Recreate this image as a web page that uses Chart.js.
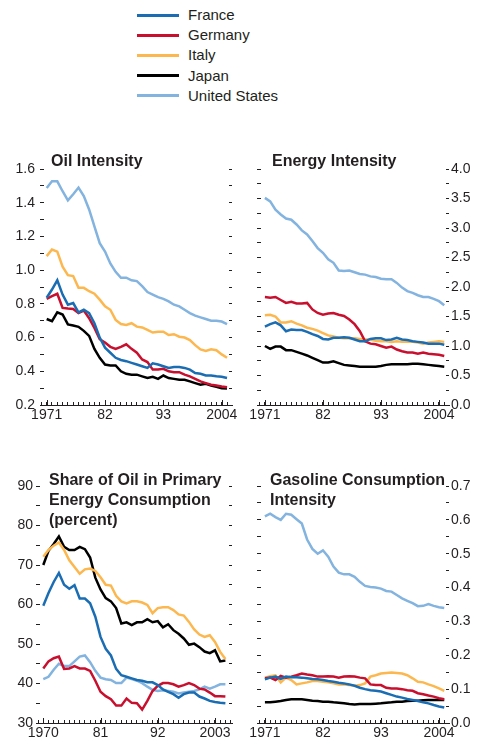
<!DOCTYPE html>
<html>
<head>
<meta charset="utf-8">
<script src="https://cdn.jsdelivr.net/npm/chart.js@4.4.0/dist/chart.umd.min.js"></script>
<style>
  html, body { margin: 0; padding: 0; background: #fff; }
  body { width: 478px; height: 745px; position: relative; overflow: hidden;
         font-family: 'Liberation Sans', Arial, sans-serif; color: #231f20; }
  .panel { position: absolute; }
  .title { position: absolute; font-weight: bold; font-size: 16px; line-height: 20px; white-space: nowrap; }
  .row { position: absolute; left: 137px; height: 20px; line-height: 20px; font-size: 15px; }
  .swatch { position: absolute; left: 0; top: 8.5px; width: 42px; height: 3px; }
  .name { position: absolute; left: 51px; white-space: nowrap; }
</style>
</head>
<body>
<div id="legend"></div>

<div class="panel" style="left:0;top:140px;width:240px;height:290px"><canvas id="oil"></canvas></div>
<div class="panel" style="left:240px;top:140px;width:238px;height:290px"><canvas id="energy"></canvas></div>
<div class="panel" style="left:0;top:460px;width:240px;height:285px"><canvas id="share"></canvas></div>
<div class="panel" style="left:240px;top:460px;width:238px;height:285px"><canvas id="gasoline"></canvas></div>

<div class="title" style="left:51px;top:151px">Oil Intensity</div>
<div class="title" style="left:272px;top:151px">Energy Intensity</div>
<div class="title" style="left:49px;top:470px">Share of Oil in Primary<br>Energy Consumption<br>(percent)</div>
<div class="title" style="left:270px;top:470px">Gasoline Consumption<br>Intensity</div>

<script>
// --- séries ---
const countries = ['France', 'Germany', 'Italy', 'Japan', 'United States'];
const colors = ['#1a6db3', '#c8102e', '#fdb74f', '#000000', '#83b3df'];

const years = [1971, 1972, 1973, 1974, 1975, 1976, 1977, 1978, 1979, 1980,
  1981, 1982, 1983, 1984, 1985, 1986, 1987, 1988, 1989, 1990,
  1991, 1992, 1993, 1994, 1995, 1996, 1997, 1998, 1999, 2000,
  2001, 2002, 2003, 2004, 2005];
const shareYears = [1970, 1971, 1972, 1973, 1974, 1975, 1976, 1977, 1978, 1979,
  1980, 1981, 1982, 1983, 1984, 1985, 1986, 1987, 1988, 1989,
  1990, 1991, 1992, 1993, 1994, 1995, 1996, 1997, 1998, 1999,
  2000, 2001, 2002, 2003, 2004, 2005];

const tickYears = [1971, 1982, 1993, 2004];
const tickText = ['1971', '82', '93', '2004'];
const shareTickYears = [1970, 1981, 1992, 2003];
const shareTickText = ['1970', '81', '92', '2003'];

// Oil Intensity
const oilFrance = [0.836, 0.885, 0.94, 0.855, 0.795, 0.805, 0.75, 0.765, 0.745, 0.685,
  0.60, 0.54, 0.51, 0.48, 0.467, 0.46, 0.45, 0.44, 0.43, 0.42,
  0.447, 0.44, 0.43, 0.42, 0.425, 0.425, 0.42, 0.41, 0.39, 0.385,
  0.375, 0.375, 0.37, 0.367, 0.36];
const oilGermany = [0.83, 0.846, 0.86, 0.776, 0.772, 0.77, 0.745, 0.76, 0.715, 0.657,
  0.59, 0.57, 0.545, 0.533, 0.545, 0.56, 0.533, 0.51, 0.47, 0.455,
  0.41, 0.41, 0.415, 0.40, 0.395, 0.395, 0.38, 0.37, 0.355, 0.34,
  0.33, 0.32, 0.316, 0.31, 0.305];
const oilItaly = [1.083, 1.122, 1.11, 1.02, 0.97, 0.965, 0.895, 0.895, 0.875, 0.86,
  0.825, 0.785, 0.765, 0.705, 0.68, 0.675, 0.685, 0.665, 0.66, 0.645,
  0.63, 0.635, 0.635, 0.615, 0.62, 0.605, 0.60, 0.585, 0.555, 0.53,
  0.52, 0.53, 0.525, 0.50, 0.48];
const oilJapan = [0.71, 0.697, 0.75, 0.737, 0.678, 0.672, 0.664, 0.64, 0.61, 0.533,
  0.48, 0.44, 0.435, 0.435, 0.40, 0.385, 0.38, 0.38, 0.37, 0.36,
  0.367, 0.355, 0.375, 0.36, 0.355, 0.35, 0.35, 0.34, 0.33, 0.32,
  0.326, 0.316, 0.308, 0.30, 0.298];
const oilUS = [1.487, 1.527, 1.527, 1.468, 1.414, 1.45, 1.49, 1.44, 1.36, 1.26,
  1.16, 1.11, 1.04, 0.99, 0.955, 0.955, 0.94, 0.935, 0.905, 0.87,
  0.855, 0.84, 0.83, 0.815, 0.795, 0.785, 0.765, 0.745, 0.73, 0.72,
  0.71, 0.70, 0.70, 0.695, 0.68];

// Energy Intensity
const energyFrance = [1.33, 1.37, 1.40, 1.35, 1.25, 1.28, 1.27, 1.27, 1.24, 1.20,
  1.17, 1.12, 1.11, 1.14, 1.14, 1.15, 1.14, 1.11, 1.08, 1.08,
  1.12, 1.13, 1.13, 1.10, 1.11, 1.14, 1.11, 1.10, 1.08, 1.07,
  1.06, 1.04, 1.04, 1.04, 1.02];
const energyGermany = [1.83, 1.82, 1.83, 1.78, 1.73, 1.75, 1.72, 1.72, 1.73, 1.62,
  1.56, 1.53, 1.55, 1.56, 1.53, 1.51, 1.45, 1.37, 1.25, 1.08,
  1.04, 1.03, 1.00, 0.97, 0.99, 0.94, 0.91, 0.89, 0.89, 0.87,
  0.89, 0.87, 0.86, 0.85, 0.83];
const energyItaly = [1.52, 1.53, 1.50, 1.40, 1.40, 1.42, 1.38, 1.35, 1.31, 1.29,
  1.26, 1.22, 1.18, 1.16, 1.14, 1.13, 1.13, 1.13, 1.12, 1.11,
  1.11, 1.09, 1.08, 1.08, 1.07, 1.08, 1.07, 1.07, 1.07, 1.06,
  1.04, 1.06, 1.07, 1.08, 1.07];
const energyJapan = [1.00, 0.95, 0.99, 0.99, 0.93, 0.93, 0.90, 0.87, 0.84, 0.80,
  0.76, 0.72, 0.72, 0.74, 0.71, 0.68, 0.67, 0.66, 0.65, 0.65,
  0.65, 0.65, 0.66, 0.68, 0.69, 0.69, 0.69, 0.69, 0.70, 0.70,
  0.69, 0.68, 0.67, 0.66, 0.65];
const energyUS = [3.51, 3.45, 3.31, 3.23, 3.16, 3.14, 3.06, 2.96, 2.89, 2.78,
  2.66, 2.58, 2.47, 2.41, 2.28, 2.27, 2.28, 2.25, 2.22, 2.21,
  2.18, 2.17, 2.14, 2.13, 2.13, 2.07, 1.99, 1.93, 1.90, 1.86,
  1.83, 1.83, 1.80, 1.76, 1.69];

// Share of Oil in Primary Energy Consumption (percent), 1970-2005
const shareFrance = [59.7, 62.9, 65.7, 68.0, 65.0, 64.0, 64.9, 61.5, 61.5, 60.3,
  56.9, 51.8, 48.8, 47.1, 43.7, 42.1, 41.7, 41.3, 40.9, 40.7,
  40.3, 40.3, 39.6, 38.5, 37.9, 37.3, 36.4, 37.3, 37.7, 37.7,
  36.7, 36.2, 35.6, 35.3, 35.1, 35.0];
const shareGermany = [43.8, 45.6, 46.4, 46.8, 43.7, 43.8, 44.4, 43.8, 43.8, 43.2,
  40.7, 37.9, 36.8, 36.0, 34.4, 34.4, 36.2, 35.1, 35.0, 33.4,
  35.6, 38.1, 39.4, 40.1, 40.1, 39.8, 39.2, 39.6, 40.1, 39.6,
  38.7, 38.5, 37.7, 36.8, 36.8, 36.7];
const shareItaly = [72.1, 73.8, 74.9, 75.7, 73.8, 71.2, 69.5, 67.8, 68.9, 69.1,
  68.5, 66.9, 65.0, 64.8, 62.2, 60.8, 60.3, 60.8, 60.8, 60.5,
  59.9, 57.8, 59.1, 59.3, 59.3, 58.6, 57.5, 57.2, 55.6, 53.7,
  52.4, 51.8, 52.2, 50.5, 48.0, 46.2];
const shareJapan = [70.0, 73.6, 75.3, 77.2, 74.6, 73.8, 73.8, 74.6, 74.0, 71.9,
  66.8, 63.8, 61.6, 60.8, 59.1, 55.2, 55.5, 54.8, 55.5, 55.5,
  56.3, 55.5, 55.8, 54.2, 55.0, 53.5, 52.6, 51.4, 49.8, 50.1,
  49.2, 48.1, 47.7, 48.4, 45.6, 45.8];
const shareUS = [41.1, 41.7, 43.5, 45.0, 44.4, 44.4, 45.6, 46.8, 47.1, 45.4,
  43.2, 41.5, 41.1, 40.9, 40.1, 40.1, 41.5, 41.1, 40.7, 40.1,
  39.2, 38.4, 38.1, 38.3, 38.1, 37.9, 37.5, 37.7, 37.9, 38.1,
  38.5, 39.2, 38.7, 39.2, 39.8, 39.8];

// Gasoline Consumption Intensity
const gasFrance = [0.129, 0.134, 0.137, 0.130, 0.137, 0.135, 0.135, 0.134, 0.132, 0.130,
  0.129, 0.127, 0.124, 0.122, 0.119, 0.117, 0.114, 0.110, 0.104, 0.100,
  0.097, 0.095, 0.093, 0.088, 0.083, 0.078, 0.075, 0.071, 0.068, 0.065,
  0.061, 0.058, 0.053, 0.049, 0.046];
const gasGermany = [0.132, 0.134, 0.127, 0.139, 0.134, 0.137, 0.141, 0.146, 0.143, 0.141,
  0.137, 0.137, 0.138, 0.137, 0.134, 0.137, 0.138, 0.137, 0.134, 0.132,
  0.114, 0.112, 0.112, 0.104, 0.102, 0.102, 0.100, 0.097, 0.095, 0.088,
  0.085, 0.081, 0.078, 0.073, 0.070];
const gasItaly = [0.134, 0.138, 0.141, 0.120, 0.134, 0.127, 0.114, 0.117, 0.120, 0.124,
  0.124, 0.122, 0.120, 0.117, 0.114, 0.114, 0.112, 0.110, 0.112, 0.117,
  0.137, 0.141, 0.146, 0.148, 0.149, 0.148, 0.146, 0.141, 0.132, 0.122,
  0.120, 0.114, 0.109, 0.102, 0.095];
const gasJapan = [0.061, 0.061, 0.063, 0.065, 0.068, 0.070, 0.070, 0.070, 0.068, 0.066,
  0.065, 0.063, 0.063, 0.061, 0.060, 0.058, 0.056, 0.055, 0.056, 0.056,
  0.056, 0.057, 0.058, 0.060, 0.061, 0.063, 0.063, 0.065, 0.066, 0.066,
  0.067, 0.068, 0.068, 0.068, 0.068];
const gasUS = [0.610, 0.618, 0.608, 0.600, 0.618, 0.615, 0.602, 0.589, 0.542, 0.514,
  0.500, 0.510, 0.491, 0.462, 0.444, 0.439, 0.439, 0.432, 0.417, 0.405,
  0.402, 0.400, 0.397, 0.390, 0.388, 0.378, 0.368, 0.361, 0.354, 0.345,
  0.346, 0.351, 0.346, 0.342, 0.340];

const INK = '#231f20';
Chart.defaults.font.family = "'Liberation Sans', Arial, sans-serif";
Chart.defaults.font.size = 14;
Chart.defaults.color = INK;

// legenda em HTML
const legendEl = document.getElementById('legend');
countries.forEach((name, i) => {
  const row = document.createElement('div');
  row.className = 'row';
  row.style.top = (5 + i * 20.2) + 'px';
  row.innerHTML = '<span class="swatch" style="background:' + colors[i] + '"></span><span class="name">' + name + '</span>';
  legendEl.appendChild(row);
});

// traços maiores nos anos rotulados
const majorTicks = {
  id: 'majorTicks',
  afterDraw(chart, args, opts) {
    const xs = chart.scales.x;
    const b = chart.chartArea.bottom;
    const ctx = chart.ctx;
    ctx.save();
    ctx.strokeStyle = INK;
    ctx.lineWidth = 1;
    opts.years.forEach(v => {
      const px = Math.round(xs.getPixelForValue(v)) + 0.5;
      ctx.beginPath();
      ctx.moveTo(px, b);
      ctx.lineTo(px, b - 5);
      ctx.stroke();
    });
    ctx.restore();
  }
};

function yAxis(cfg, pos, showLabels, width, tick, pad) {
  return {
    type: 'linear',
    position: pos,
    min: cfg.yMin,
    max: cfg.yMax,
    border: { display: false },
    grid: { drawOnChartArea: false, tickLength: -tick, color: INK, lineWidth: 1 },
    ticks: {
      stepSize: cfg.yStep,
      autoSkip: false,
      padding: pad,
      callback: v => {
        if (!showLabels) return '';
        const k = Math.round(v / cfg.yStep);
        return k % cfg.labelEvery === 0 ? v.toFixed(cfg.decimals) : '';
      }
    },
    afterFit: s => { s.width = width; }
  };
}

function makePanel(id, cfg) {
  const datasets = countries.map((name, i) => ({
    label: name,
    data: cfg.years.map((yr, j) => ({ x: yr, y: cfg.series[i][j] })),
    borderColor: colors[i],
    borderWidth: 2.5,
    pointRadius: 0,
    tension: 0,
    fill: false
  }));

  return new Chart(document.getElementById(id), {
    type: 'line',
    data: { datasets },
    plugins: [majorTicks],
    options: {
      responsive: true,
      maintainAspectRatio: false,
      animation: false,
      layout: { padding: { top: cfg.top, left: 0, right: 0, bottom: 0 } },
      plugins: {
        legend: { display: false },
        tooltip: { enabled: false },
        majorTicks: { years: cfg.majors }
      },
      scales: {
        x: {
          type: 'linear',
          min: cfg.xMin,
          max: cfg.xMax,
          border: { display: true, color: INK, width: 1 },
          grid: { drawOnChartArea: false, tickLength: -3, color: INK },
          ticks: {
            stepSize: 1,
            autoSkip: false,
            includeBounds: false,
            maxRotation: 0,
            padding: 5,
            callback: v => {
              const k = cfg.majors.indexOf(v);
              return k >= 0 ? cfg.majorText[k] : '';
            }
          },
          afterFit: s => { s.height = cfg.xHeight; }
        },
        y: yAxis(cfg, 'left', cfg.labelSide === 'left', cfg.leftW, 4, cfg.leftPad),
        y2: yAxis(cfg, 'right', cfg.labelSide === 'right', cfg.rightW, 3, 5)
      }
    }
  });
}

makePanel('oil', {
  years: years, series: [oilFrance, oilGermany, oilItaly, oilJapan, oilUS],
  yMin: 0.2, yMax: 1.6, yStep: 0.1, labelEvery: 2, decimals: 1,
  xMin: 1969.74, xMax: 2005.94, majors: tickYears, majorText: tickText,
  labelSide: 'left', leftW: 40, rightW: 8, leftPad: 9, top: 29, xHeight: 25
});
makePanel('energy', {
  years: years, series: [energyFrance, energyGermany, energyItaly, energyJapan, energyUS],
  yMin: 0, yMax: 4, yStep: 0.25, labelEvery: 2, decimals: 1,
  xMin: 1969.5, xMax: 2005.9, majors: tickYears, majorText: tickText,
  labelSide: 'right', leftW: 17, rightW: 29, leftPad: 9, top: 29, xHeight: 25
});
makePanel('share', {
  years: shareYears, series: [shareFrance, shareGermany, shareItaly, shareJapan, shareUS],
  yMin: 30, yMax: 90, yStep: 5, labelEvery: 2, decimals: 0,
  xMin: 1968.6, xMax: 2006.27, majors: shareTickYears, majorText: shareTickText,
  labelSide: 'left', leftW: 36, rightW: 8, leftPad: 7, top: 26, xHeight: 22
});
makePanel('gasoline', {
  years: years, series: [gasFrance, gasGermany, gasItaly, gasJapan, gasUS],
  yMin: 0, yMax: 0.7, yStep: 0.05, labelEvery: 2, decimals: 1,
  xMin: 1969.5, xMax: 2005.9, majors: tickYears, majorText: tickText,
  labelSide: 'right', leftW: 17, rightW: 29, leftPad: 9, top: 26, xHeight: 22
});
</script>
</body>
</html>
